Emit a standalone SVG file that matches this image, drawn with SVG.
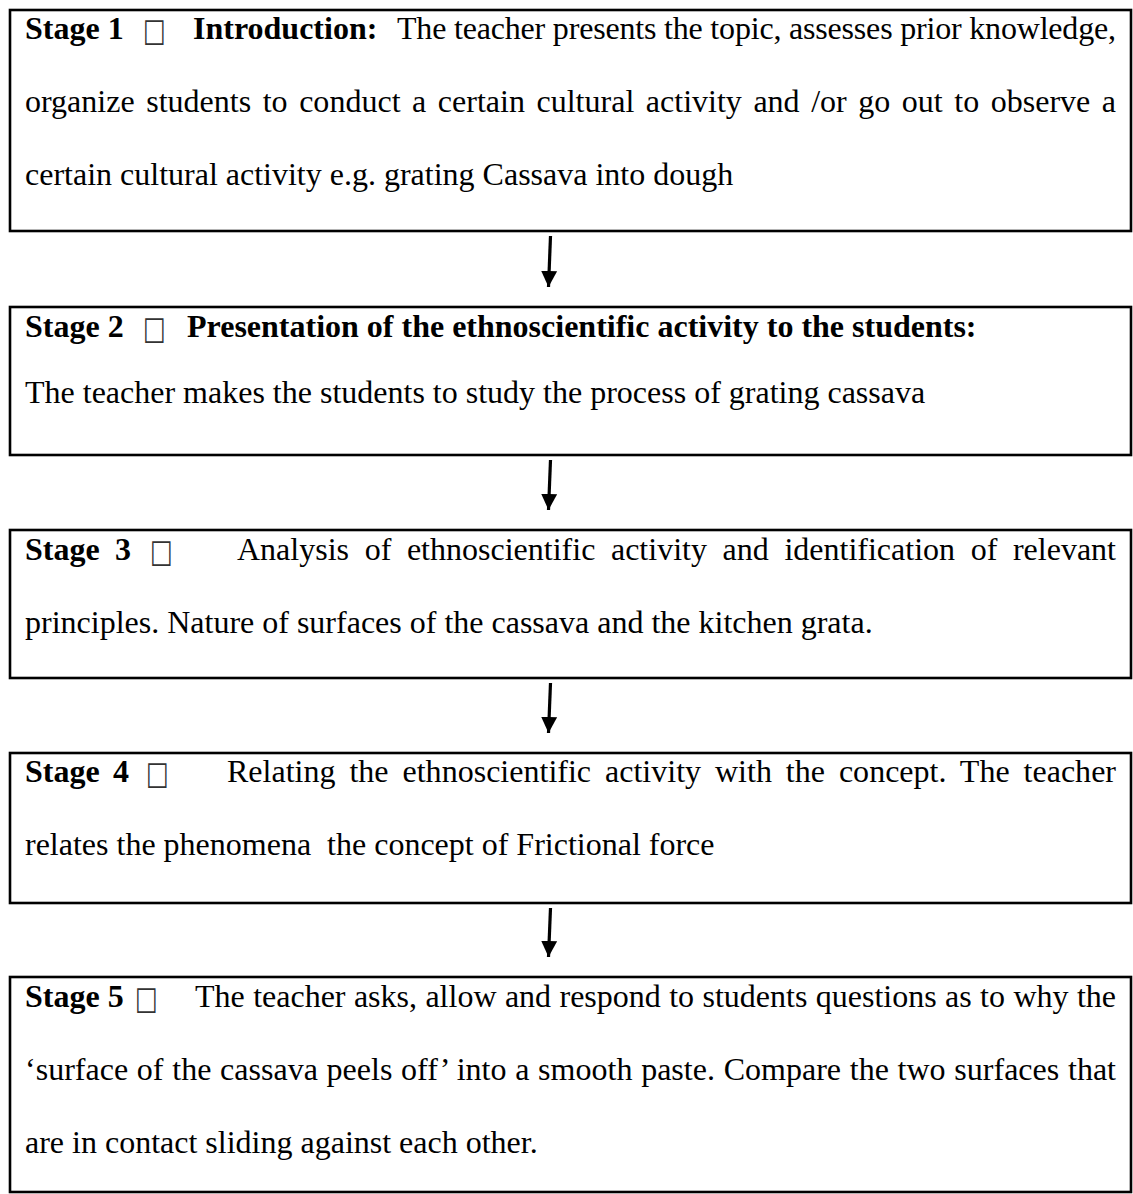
<svg xmlns="http://www.w3.org/2000/svg" width="1133" height="1194" viewBox="0 0 1133 1194">
<style>
.box{fill:#fff;stroke:#000;stroke-width:2.6}
text{font-family:"Liberation Serif","Times New Roman",serif;font-size:32px;fill:#000}
.b{font-weight:bold}
.sq{font-family:"DejaVu Sans",sans-serif;font-size:28px;fill:#333}
.conn{stroke:#000;stroke-width:3.2;fill:none}
</style>
<defs>
<marker id="ah" markerUnits="userSpaceOnUse" markerWidth="18" markerHeight="18" refX="16" refY="8.5" orient="auto">
<path d="M0,0.5 L16,8.5 L0,16.5 Z" fill="#000"/>
</marker>
</defs>
<rect width="1133" height="1194" fill="#fff"/>
<g id="connectors">
<line class="conn" x1="550.5" y1="236" x2="548.5" y2="287" marker-end="url(#ah)"/>
<line class="conn" x1="550.5" y1="460" x2="548.5" y2="510" marker-end="url(#ah)"/>
<line class="conn" x1="550.5" y1="683" x2="548.5" y2="733" marker-end="url(#ah)"/>
<line class="conn" x1="550.5" y1="908" x2="548.5" y2="957" marker-end="url(#ah)"/>
</g>
<g id="stage1">
<rect class="box" x="10" y="10" width="1121" height="221"/>
<text class="b" x="25" y="39">Stage 1</text>
<text class="sq" transform="translate(143,41) scale(0.85,1.15)">□</text>
<text class="b" x="193" y="39">Introduction:</text>
<text x="397" y="39" textLength="719" lengthAdjust="spacing">The teacher presents the topic, assesses prior knowledge,</text>
<text x="25" y="112" word-spacing="3.5" textLength="1091" lengthAdjust="spacing">organize students to conduct a certain cultural activity and /or go out to observe a</text>
<text x="25" y="185">certain cultural activity e.g. grating Cassava into dough</text>
</g>
<g id="stage2">
<rect class="box" x="10" y="307" width="1121" height="148"/>
<text class="b" x="25" y="337">Stage 2</text>
<text class="sq" transform="translate(143,339) scale(0.85,1.15)">□</text>
<text class="b" x="187" y="337">Presentation of the ethnoscientific activity to the students:</text>
<text x="25" y="403">The teacher makes the students to study the process of grating cassava</text>
</g>
<g id="stage3">
<rect class="box" x="10" y="530" width="1121" height="148"/>
<text class="b" x="25" y="560">Stage</text>
<text class="b" x="115" y="560">3</text>
<text class="sq" transform="translate(150,562) scale(0.85,1.15)">□</text>
<text x="237" y="560" word-spacing="7.6" textLength="879" lengthAdjust="spacing">Analysis of ethnoscientific activity and identification of relevant</text>
<text x="25" y="633">principles. Nature of surfaces of the cassava and the kitchen grata.</text>
</g>
<g id="stage4">
<rect class="box" x="10" y="753" width="1121" height="150"/>
<text class="b" x="25" y="782">Stage</text>
<text class="b" x="113" y="782">4</text>
<text class="sq" transform="translate(146,784) scale(0.85,1.15)">□</text>
<text x="227" y="782" word-spacing="5.9" textLength="889" lengthAdjust="spacing">Relating the ethnoscientific activity with the concept. The teacher</text>
<text x="25" y="855" xml:space="preserve">relates the phenomena  the concept of Frictional force</text>
</g>
<g id="stage5">
<rect class="box" x="10" y="977" width="1121" height="215"/>
<text class="b" x="25" y="1007">Stage 5</text>
<text class="sq" transform="translate(135,1009) scale(0.85,1.15)">□</text>
<text x="195" y="1007" word-spacing="0.4" textLength="921" lengthAdjust="spacing">The teacher asks, allow and respond to students questions as to why the</text>
<text x="25" y="1080" word-spacing="0.7" textLength="1091" lengthAdjust="spacing">‘surface of the cassava peels off’ into a smooth paste. Compare the two surfaces that</text>
<text x="25" y="1153">are in contact sliding against each other.</text>
</g>
</svg>
